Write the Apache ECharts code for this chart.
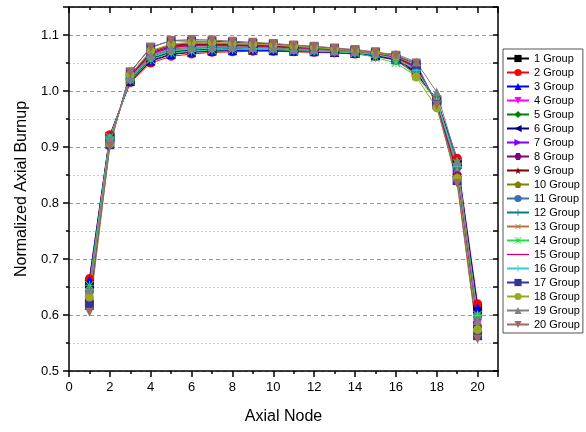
<!DOCTYPE html>
<html><head><meta charset="utf-8">
<script src="https://cdn.jsdelivr.net/npm/echarts@6/dist/echarts.min.js"></script>
<style>html,body{margin:0;padding:0;background:#fff}#c{width:586px;height:432px}</style>
</head><body><div id="c"></div>
<script>
const nodes = [1,2,3,4,5,6,7,8,9,10,11,12,13,14,15,16,17,18,19,20];
const groupNames = ['1 Group','2 Group','3 Group','4 Group','5 Group','6 Group','7 Group','8 Group','9 Group','10 Group',
  '11 Group','12 Group','13 Group','14 Group','15 Group','16 Group','17 Group','18 Group','19 Group','20 Group'];
const xTickLabels = [0,2,4,6,8,10,12,14,16,18,20];
const yTickLabels = [0.5,0.6,0.7,0.8,0.9,1.0,1.1];

const g1  = [0.656,0.919,1.018,1.054,1.066,1.070,1.072,1.073,1.073,1.073,1.072,1.071,1.069,1.067,1.063,1.056,1.033,0.984,0.873,0.611];
const g2  = [0.665,0.922,1.015,1.050,1.062,1.066,1.069,1.070,1.071,1.071,1.070,1.069,1.068,1.066,1.062,1.055,1.030,0.985,0.880,0.620];
const g3  = [0.663,0.920,1.017,1.053,1.065,1.069,1.071,1.072,1.073,1.072,1.071,1.070,1.069,1.067,1.063,1.056,1.032,0.984,0.876,0.614];
const g4  = [0.632,0.911,1.025,1.065,1.077,1.080,1.081,1.080,1.080,1.079,1.077,1.075,1.073,1.070,1.066,1.060,1.041,0.980,0.855,0.585];
const g5  = [0.647,0.916,1.020,1.058,1.070,1.074,1.076,1.076,1.076,1.075,1.074,1.072,1.071,1.068,1.064,1.058,1.036,0.982,0.867,0.601];
const g6  = [0.650,0.917,1.020,1.057,1.069,1.073,1.075,1.075,1.075,1.075,1.073,1.072,1.070,1.068,1.064,1.057,1.035,0.983,0.869,0.604];
const g7  = [0.629,0.910,1.026,1.067,1.079,1.082,1.082,1.081,1.081,1.079,1.077,1.076,1.073,1.071,1.067,1.060,1.042,0.979,0.853,0.582];
const g8  = [0.626,0.909,1.027,1.068,1.080,1.083,1.083,1.082,1.081,1.080,1.078,1.076,1.074,1.071,1.067,1.061,1.043,0.979,0.851,0.579];
const g9  = [0.623,0.908,1.028,1.070,1.082,1.084,1.084,1.083,1.082,1.081,1.078,1.077,1.074,1.072,1.068,1.061,1.044,0.978,0.849,0.576];
const g10 = [0.620,0.907,1.029,1.071,1.083,1.086,1.086,1.084,1.083,1.082,1.079,1.077,1.075,1.072,1.068,1.062,1.045,0.978,0.846,0.573];
const g11 = [0.644,0.915,1.021,1.060,1.072,1.075,1.077,1.077,1.077,1.076,1.074,1.073,1.071,1.069,1.065,1.058,1.037,0.982,0.864,0.598];
const g12 = [0.641,0.914,1.022,1.061,1.073,1.076,1.078,1.078,1.077,1.077,1.075,1.073,1.072,1.069,1.065,1.059,1.038,0.981,0.862,0.595];
const g13 = [0.638,0.913,1.023,1.063,1.075,1.078,1.079,1.079,1.078,1.077,1.075,1.074,1.072,1.070,1.066,1.059,1.039,0.981,0.860,0.592];
const g14 = [0.653,0.918,1.019,1.056,1.068,1.071,1.073,1.074,1.074,1.074,1.072,1.071,1.070,1.068,1.060,1.050,1.027,0.983,0.871,0.600];
const g15 = [0.630,0.910,1.026,1.066,1.078,1.081,1.082,1.081,1.080,1.079,1.077,1.075,1.073,1.070,1.066,1.060,1.042,0.979,0.854,0.583];
const g16 = [0.645,0.915,1.021,1.060,1.072,1.075,1.076,1.077,1.076,1.076,1.074,1.073,1.071,1.069,1.065,1.058,1.037,0.982,0.865,0.599];
const g17 = [0.617,0.904,1.034,1.078,1.090,1.089,1.089,1.087,1.085,1.084,1.081,1.079,1.076,1.073,1.069,1.063,1.048,0.976,0.840,0.563];
const g18 = [0.632,0.906,1.029,1.072,1.084,1.087,1.087,1.085,1.084,1.082,1.080,1.078,1.075,1.072,1.068,1.062,1.025,0.970,0.844,0.574];
const g19 = [0.645,0.913,1.023,1.063,1.075,1.078,1.079,1.079,1.078,1.077,1.075,1.074,1.072,1.071,1.068,1.066,1.052,0.998,0.876,0.590];
const g20 = [0.605,0.902,1.033,1.078,1.090,1.092,1.091,1.089,1.087,1.085,1.082,1.080,1.077,1.074,1.070,1.064,1.050,0.975,0.835,0.557];
const groups = [g1,g2,g3,g4,g5,g6,g7,g8,g9,g10,g11,g12,g13,g14,g15,g16,g17,g18,g19,g20];

const colors = ['#000000','#FF0000','#0000FF','#FF00FF','#008000','#000080','#8000FF','#800080','#800000','#808000',
  '#3A6EB5','#008080','#B8733A','#22DD44','#CC0066','#33CCDD','#333399','#99AA22','#808080','#9A6A62'];
const STAR = 'path://M50,0 L61,35 L98,35 L68,57 L79,91 L50,70 L21,91 L32,57 L2,35 L39,35 Z';
const PENT = 'path://M50,0 L100,38 L81,100 L19,100 L0,38 Z';
const HEX = 'path://M25,0 L75,0 L100,50 L75,100 L25,100 L0,50 Z';
const PLUS = 'path://M45,0 H55 V45 H100 V55 H55 V100 H45 V55 H0 V45 H45 Z';
const ASTER = 'path://M45,0 H55 V45 H100 V55 H55 V100 H45 V55 H0 V45 H45 Z M7,0 L100,93 L93,100 L0,7 Z M93,0 L100,7 L7,100 L0,93 Z';
const LINEICON = 'path://M0,0 H100 V6 H0 Z';
const symbols = ['rect','circle','triangle','triangle','diamond','triangle','triangle',HEX,STAR,PENT,
  'circle',PLUS,PLUS,ASTER,'none',PLUS,'rect','circle','triangle','triangle'];
const rotates = [0,0,0,180,0,90,-90,0,0,0,0,0,45,0,0,0,0,0,0,180];

const FONT = '"Liberation Sans", Arial, sans-serif';
const AX = {color:'#000', width:1.5};

const series = groups.map((g,i)=>({
  name: groupNames[i], type:'line', xAxisIndex:0, yAxisIndex:0,
  data: nodes.map((n,j)=>[n,g[j]]),
  symbol: symbols[i], symbolSize: 9, symbolRotate: rotates[i], showAllSymbol:true,
  lineStyle:{width:1,color:colors[i]}, itemStyle:{color:colors[i]},
  emphasis:{disabled:true}
}));

const legendData = groupNames.map((n,i)=> symbols[i]==='none' ? {name:n, icon:LINEICON} : {name:n});

const chart = echarts.init(document.getElementById('c'), null, {renderer:'canvas'});
chart.setOption({
  animation:false,
  backgroundColor:'#fff',
  textStyle:{fontFamily:FONT},
  grid:{left:69,right:88,top:7,bottom:61},
  legend:{
    orient:'vertical', left:503, top:49, itemWidth:22, itemHeight:9, itemGap:3,
    padding:[4,3,3,3], borderColor:'#555', borderWidth:1, backgroundColor:'#fff',
    textStyle:{fontSize:11, fontFamily:FONT, color:'#000'},
    data: legendData
  },
  xAxis:[
    {type:'value', position:'bottom', min:0, max:21, interval:2,
     axisLine:{show:true,onZero:false,lineStyle:AX},
     axisTick:{show:true,inside:false,length:6,lineStyle:AX},
     axisLabel:{formatter:v=> xTickLabels.indexOf(v)>=0 ? String(v) : '', color:'#000', fontSize:13, margin:10, fontFamily:FONT},
     splitLine:{show:false},
     name:'Axial Node', nameLocation:'middle', nameGap:38,
     nameTextStyle:{fontSize:16,color:'#000',fontFamily:FONT}},
    {type:'value', position:'bottom', min:0, max:21, interval:1,
     axisLine:{show:false}, axisTick:{show:true,inside:false,length:3,lineStyle:AX},
     axisLabel:{show:false}, splitLine:{show:false}},
    {type:'value', position:'top', min:0, max:21, interval:2,
     axisLine:{show:true,onZero:false,lineStyle:AX}, axisTick:{show:true,inside:true,length:6,lineStyle:AX},
     axisLabel:{show:false}, splitLine:{show:false}},
    {type:'value', position:'top', min:0, max:21, interval:1,
     axisLine:{show:false}, axisTick:{show:true,inside:true,length:3,lineStyle:AX},
     axisLabel:{show:false}, splitLine:{show:false}}
  ],
  yAxis:[
    {type:'value', position:'left', min:0.5, max:1.15, interval:0.1,
     axisLine:{show:true,onZero:false,lineStyle:AX},
     axisTick:{show:true,inside:false,length:6,lineStyle:AX},
     axisLabel:{formatter:v=>{const r=Math.round(v*10)/10; return (Math.abs(v-r)<1e-6 && yTickLabels.indexOf(r)>=0)? r.toFixed(1):'';}, color:'#000', fontSize:13, margin:10, fontFamily:FONT},
     splitLine:{show:true,lineStyle:{color:'#9a9a9a',type:[4,3],width:1}},
     name:'Normalized Axial Burnup', nameLocation:'middle', nameGap:37,
     nameTextStyle:{fontSize:16,color:'#000',fontFamily:FONT}},
    {type:'value', position:'left', min:0.5, max:1.15, interval:0.05,
     axisLine:{show:false}, axisTick:{show:true,inside:false,length:3,lineStyle:AX},
     axisLabel:{show:false},
     splitLine:{show:true,lineStyle:{color:['rgba(0,0,0,0)','#cccccc'],type:[2,2],width:1}}},
    {type:'value', position:'right', min:0.5, max:1.15, interval:0.05,
     axisLine:{show:true,onZero:false,lineStyle:AX}, axisTick:{show:true,inside:true,length:5,lineStyle:AX},
     axisLabel:{show:false}, splitLine:{show:false}}
  ],
  series: series
});
</script></body></html>
